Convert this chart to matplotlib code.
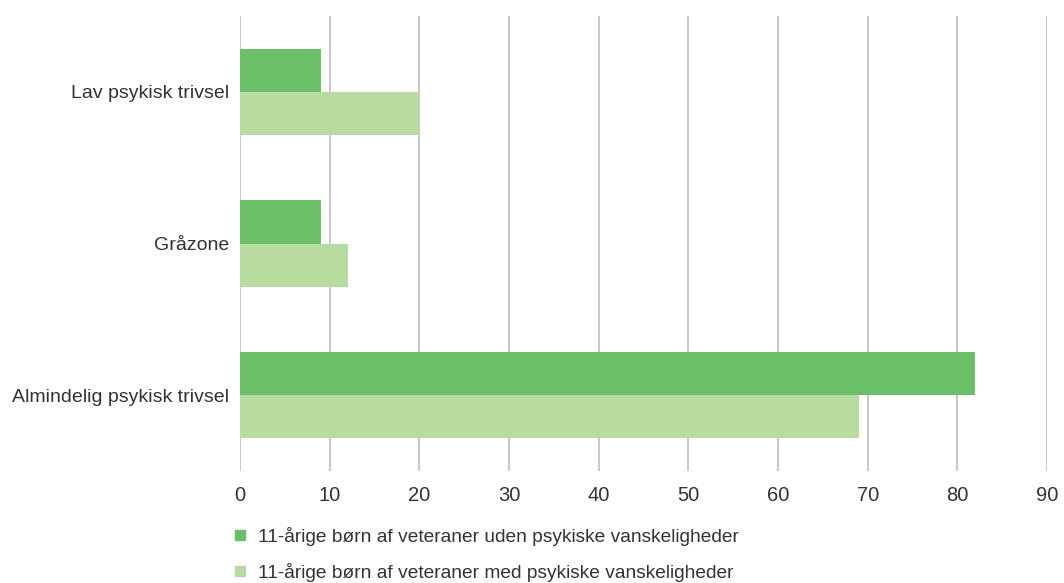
import matplotlib
matplotlib.use("Agg")
import matplotlib.pyplot as plt
from matplotlib.lines import Line2D
import numpy as np

categories = ["Almindelig psykisk trivsel", "Gråzone", "Lav psykisk trivsel"]
series_names = ["11-årige børn af veteraner uden psykiske vanskeligheder",
                "11-årige børn af veteraner med psykiske vanskeligheder"]
uden = [82, 9, 9]
med = [69, 12, 20]
xticks = [0, 10, 20, 30, 40, 50, 60, 70, 80, 90]

colors = ["#6bbf68", "#b8dc9f"]
plt.rcParams['font.family'] = ['Liberation Sans', 'DejaVu Sans']

W, H = 1064, 583
fig = plt.figure(figsize=(W / 100, H / 100), dpi=100)
ax = fig.add_axes([240 / W, 1 - 471 / H, (1047 - 240) / W, (471 - 16) / H])

y = np.arange(len(categories))
bh = 0.284
ax.barh(y + bh / 2, uden, height=bh, color=colors[0], zorder=3, label=series_names[0])
ax.barh(y - bh / 2, med, height=bh, color=colors[1], zorder=3, label=series_names[1])

ax.set_xlim(0, 90)
ax.set_ylim(-0.5, 2.5)
ax.set_xticks(xticks)
ax.set_yticks(y)
ax.set_yticklabels(categories)
ax.grid(axis='x', color='#b8b8b8', linewidth=1.1, zorder=0)
for s in ax.spines.values():
    s.set_visible(False)
ax.tick_params(axis='both', length=0, labelcolor='#333333')
ax.tick_params(axis='x', pad=11, labelsize=14.5)
ax.tick_params(axis='y', pad=8, labelsize=14.0)

handles = [Line2D([], [], marker='s', linestyle='none', markersize=7, color=c) for c in colors]
fig.legend(handles, series_names, loc='upper left', bbox_to_anchor=(228 / W, 1 - 527 / H),
           frameon=False, fontsize=13.8, handletextpad=0.35, labelspacing=0.87,
           labelcolor='#333333', borderaxespad=0, borderpad=0, handlelength=1.2)

fig.savefig("out.png", dpi=100)
